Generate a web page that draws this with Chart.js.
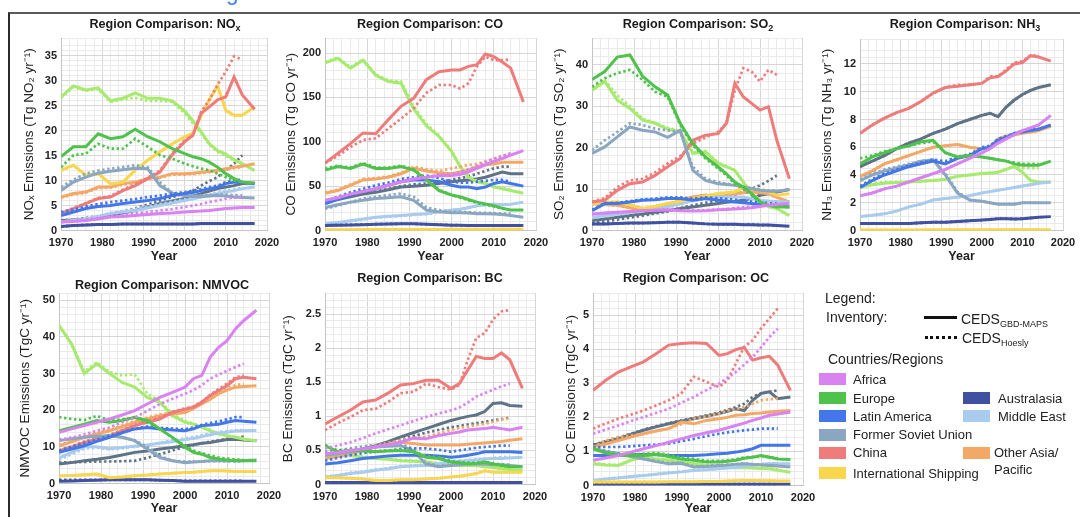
<!DOCTYPE html>
<html><head><meta charset="utf-8">
<script src="https://cdn.jsdelivr.net/npm/chart.js@4.4.0/dist/chart.umd.min.js"></script>
<style>
body{margin:0;background:#fff;}
#page{position:relative;width:1080px;height:517px;overflow:hidden;font-family:"Liberation Sans",Arial,Helvetica,sans-serif;color:#1a1a1a;background:#fff;}
.ptitle{position:absolute;font-weight:bold;font-size:12.6px;line-height:14px;white-space:nowrap;transform:translate(-50%,-50%);}
.ptitle sub{font-size:9px;vertical-align:-3px;line-height:0;}
canvas{position:absolute;}
.lg{position:absolute;white-space:nowrap;font-size:14px;line-height:16px;color:#222;}
.lr{position:absolute;white-space:nowrap;font-size:13px;line-height:15px;color:#222;}
.lg sub{font-size:9px;vertical-align:-3px;line-height:0;}
.sw{position:absolute;width:27px;height:12px;}
</style></head>
<body><div id="page">
<div style="position:absolute;left:8px;top:12px;width:1100px;height:600px;border-top:2px solid #5a5a5a;border-left:2px solid #2a2a2a;"></div>
<div style="position:absolute;left:224px;top:0;width:24px;height:5px;overflow:hidden;"><span style="position:absolute;left:2px;top:-20px;font-size:22px;line-height:25px;color:#3f82e4;">g</span></div>
</div>
<script>
// ---------- DATA ----------
const years = [1970,1973,1976,1979,1982,1985,1988,1991,1994,1997,2000,2002,2004,2006,2008,2010,2012,2014,2017];
const yearsHoesly = [1970,1973,1976,1979,1982,1985,1988,1991,1994,1997,2000,2002,2004,2006,2008,2010,2012,2014];
const regions = ['Africa','Europe','Latin America','Former Soviet Union','China','International Shipping','Australasia','Middle East','Other Asia/Pacific','North America','India'];
const regionColors = ['#d982f2','#4fc24c','#4376e8','#8aa6c1','#ef7b7b','#f8d64e','#3f51a0','#a9cbee','#f3a865','#a6ea6e','#5f7387'];
const xTicksMajor = [1970,1980,1990,2000,2010,2020];

// rows follow the order of `regions`
const NOX_GBD = [
 [1.7,1.8,2.0,2.3,2.7,2.8,3.0,3.2,3.4,3.5,3.7,3.8,3.9,4.0,4.2,4.4,4.5,4.6,4.6],
 [14.8,16.8,16.8,19.4,18.4,18.8,20.3,18.8,17.8,16.4,15.4,14.8,14.4,13.7,12.7,11.4,10.4,9.7,9.5],
 [3.0,3.7,4.4,4.8,5.0,5.4,5.7,6.0,6.4,7.0,7.4,7.6,8.0,8.4,8.7,9.4,9.7,9.7,9.4],
 [8.0,9.7,10.7,11.5,11.9,12.2,12.5,12.4,9.0,7.5,7.0,6.8,6.8,6.9,7.0,6.9,6.7,6.6,6.5],
 [3.4,4.4,5.4,6.4,6.7,8.0,9.0,10.4,11.7,15.2,17.8,19.1,23.5,24.8,26.2,26.8,30.8,27.2,24.3],
 [12.1,13.1,11.1,11.4,9.4,9.7,12.1,14.1,15.8,17.4,18.8,19.5,23.1,26.2,29.0,24.1,23.1,23.1,24.8],
 [0.8,1.0,1.1,1.2,1.2,1.3,1.3,1.3,1.3,1.3,1.3,1.3,1.4,1.4,1.4,1.4,1.4,1.4,1.4],
 [1.7,2.0,2.3,2.8,3.4,3.7,4.0,4.5,5.0,5.5,6.0,6.3,6.7,7.0,7.4,7.7,8.0,8.4,8.7],
 [6.7,7.4,7.7,8.7,8.7,9.4,9.7,10.4,10.7,11.4,11.4,11.5,11.7,11.9,12.1,12.4,12.7,12.9,13.4],
 [26.8,29.0,28.2,28.6,26.0,26.5,27.6,26.5,26.5,26.0,24.0,22.0,19.8,17.4,16.0,15.3,14.2,13.4,12.0],
 [2.0,2.1,2.3,2.6,3.0,3.5,4.0,4.7,5.4,5.9,6.4,6.9,7.4,7.9,8.4,8.7,9.0,9.4,9.5]
];
const NOX_HOESLY = [
 [1.7,1.9,2.2,2.5,2.8,3.1,3.4,3.7,4.0,4.3,4.7,5.0,5.3,5.7,6.0,6.4,6.6,6.7],
 [12.7,15.1,15.4,17.4,16.4,16.4,18.4,16.8,15.1,14.4,13.4,12.9,12.4,12.1,11.4,10.7,10.0,9.7],
 [3.7,4.2,4.8,5.3,5.7,6.0,6.3,6.7,7.0,7.4,7.7,8.0,8.3,8.7,9.0,9.7,10.0,10.2],
 [8.7,10.2,11.4,12.0,12.4,12.7,13.1,12.7,9.7,7.5,7.2,7.0,7.0,7.1,7.2,7.2,7.1,7.0],
 [3.5,4.5,5.5,6.5,6.9,8.2,9.3,10.6,12.0,15.5,18.1,19.1,23.8,26.2,29.2,31.9,34.9,34.3],
 [12.0,13.0,11.0,11.3,9.3,9.6,12.0,14.0,15.7,17.3,18.7,19.4,23.0,26.1,28.9,24.0,23.0,23.0],
 [0.8,1.0,1.1,1.2,1.2,1.3,1.3,1.3,1.3,1.3,1.3,1.3,1.4,1.4,1.4,1.4,1.4,1.4],
 [1.8,2.1,2.4,2.9,3.5,3.9,4.3,4.8,5.3,5.8,6.3,6.6,7.0,7.3,7.7,8.0,8.3,8.6],
 [6.6,7.2,7.6,8.5,8.6,9.2,9.6,10.2,10.6,11.2,11.2,11.3,11.5,11.7,11.9,12.2,12.5,12.7],
 [26.6,28.8,28.0,28.4,25.8,26.3,26.6,26.0,26.0,25.8,23.5,21.5,19.5,17.2,15.8,15.0,14.0,13.3],
 [2.0,2.2,2.5,2.9,3.4,3.9,4.4,5.2,6.0,6.7,7.4,8.0,9.0,9.9,10.7,12.1,13.4,15.1]
];
const CO_GBD = [
 [34,37,41,44,47,51,55,58,60,62,62,63,66,70,74,78,81,85,90],
 [68,72,70,75,70,70,72,68,57,45,40,38,35,32,30,28,25,23,23],
 [30,35,40,44,47,51,55,57,57,55,51,49,49,47,49,53,55,53,50],
 [26,29,32,34,36,37,38,34,23,21,20,20,19.6,19,19,18.5,18,17,15],
 [76,87,98,110,109,125,140,149,170,179,181,181,185,187,199,196,190,183,145],
 [0.8,0.9,0.9,1.0,1.0,1.0,1.1,1.1,1.2,1.2,1.3,1.3,1.3,1.4,1.4,1.4,1.5,1.5,1.5],
 [5.7,6.0,6.3,6.6,7.0,7.3,7.5,7.5,7.0,6.5,6.0,5.8,5.7,5.7,5.7,5.7,5.7,5.7,5.7],
 [7.5,9,11,13,15,16,17,18,19,21,23,24,26,28,29,30,29,29.5,32],
 [42,45,51,57,58,60,64,70,67,65,64,66,68,72,74,75,77,77,77],
 [189,194,183,192,175,168,166,137,118,106,89,72,60,55,53,49,47,45,42],
 [32,35,38,41,43,46,49,50,51,53,55,56,57,58,60,63,66,64,64]
];
const CO_HOESLY = [
 [34,37,41,44,47,51,55,58,60,63,64,66,69,73,77,81,84,87],
 [70,73,71,76,71,71,73,69,58,46,40,37,34,31,29,27,25,23],
 [33,38,43,47,51,54,58,60,62,59,55,54,54,55,56,57,57,55],
 [24.5,28,32,36,38,40,41.5,38,26,23,21,21,20.5,20,20,19.5,19,19],
 [76,84,94,102,104,115,126,138,155,164,164,160,166,185,196,192,192,193],
 [0.8,0.9,0.9,1.0,1.0,1.0,1.1,1.1,1.2,1.2,1.3,1.3,1.3,1.4,1.4,1.4,1.5,1.5],
 [5.8,6.1,6.4,6.7,7.1,7.4,7.6,7.6,7.1,6.6,6.1,5.9,5.8,5.8,5.8,5.8,5.8,5.8],
 [7,8.5,10.5,12.5,14.5,15.5,16.5,17.5,18.5,20.5,22.5,23.5,25.5,27.5,28.5,29.5,29,29.5],
 [43,46,52,58,59,61,65,72,69,67,70,72,74,75,78,81,84,87],
 [190,195,184,193,176,169,168,140,120,107,90,73,61,56,54,50,48,46],
 [33,36,39,42,44,47,50,52,53,55,57,59,61,64,67,70,72,72]
];
const SO2_GBD = [
 [4.0,4.2,4.4,4.6,4.8,4.9,5.0,4.8,4.7,4.8,5.0,5.1,5.2,5.3,5.5,5.8,6.1,6.3,6.5],
 [36.5,38.4,41.9,42.4,37.3,34.7,32.7,25.9,21.0,17.8,15.4,13.7,11.7,10.5,8.9,6.9,6.1,5.7,5.7],
 [4.8,6.5,6.5,6.9,7.3,7.4,7.7,7.7,7.3,7.7,7.3,7.1,6.9,6.7,6.5,6.3,6.1,6.0,5.7],
 [18.6,20.2,22.6,25.0,24.2,23.8,22.5,24.2,14.5,12.1,11.3,11.1,10.9,10.5,10.1,9.7,9.5,9.5,9.9],
 [6.9,7.3,9.7,11.3,11.7,13.3,15.4,17.4,21.8,23.0,23.4,25.9,35.6,32.3,30.7,29.1,29.9,21.8,12.5],
 [6.5,6.7,6.9,6.2,5.3,5.8,6.5,7.0,7.7,8.3,8.9,9.1,9.3,10.5,10.1,9.7,9.3,8.5,8.9],
 [1.6,1.6,1.7,1.8,1.8,1.9,2.0,2.0,1.8,1.6,1.5,1.5,1.5,1.4,1.4,1.3,1.3,1.2,1.0],
 [3.2,3.6,4.0,4.4,4.8,5.2,5.7,6.5,7.3,7.7,8.1,8.1,8.1,8.1,7.7,7.3,7.1,7.0,6.9],
 [6.5,6.3,6.1,5.5,4.8,5.4,6.1,7.3,8.1,8.5,8.1,8.5,8.9,9.1,9.3,9.1,8.9,8.0,6.9],
 [33.9,36.0,31.5,29.5,26.7,25.9,24.5,23.8,18.6,19.0,16.2,15.4,14.5,11.7,8.9,7.3,5.7,5.3,3.6],
 [2.4,2.8,3.2,3.6,4.0,4.4,4.8,5.3,5.7,6.1,6.5,6.8,7.0,7.3,7.8,8.5,8.9,9.3,9.9]
];
const SO2_HOESLY = [
 [4.0,4.2,4.4,4.6,4.8,4.9,5.0,4.9,4.8,4.9,5.1,5.2,5.4,5.6,5.8,6.0,6.2,6.4],
 [34.7,36.8,38.0,38.8,36.4,33.5,32.3,25.5,20.6,17.4,15.0,13.3,11.3,10.1,8.5,6.9,6.1,5.7],
 [5.0,6.6,6.7,7.1,7.5,7.7,8.0,8.0,7.7,8.0,7.8,7.6,7.4,7.2,7.0,6.8,6.6,6.5],
 [19.4,21.8,23.8,25.9,25.5,24.6,24.2,23.8,15.4,12.5,11.7,11.3,11.0,10.6,10.2,9.9,9.7,9.7],
 [7.0,7.8,10.5,12.1,12.5,14.0,16.2,18.0,21.0,22.5,23.8,25.9,33.9,39.2,38.4,36.0,38.8,37.6],
 [6.6,6.8,7.0,6.3,5.4,5.9,6.6,7.1,7.8,8.4,9.0,9.2,9.4,10.6,10.2,9.8,9.4,8.6],
 [1.6,1.6,1.7,1.8,1.8,1.9,2.0,2.0,1.8,1.6,1.5,1.5,1.5,1.4,1.4,1.3,1.3,1.2],
 [3.0,3.4,3.8,4.2,4.6,5.0,5.5,6.3,7.1,7.5,7.9,8.0,8.0,7.9,7.6,7.3,7.1,7.0],
 [6.4,6.2,6.0,5.4,4.9,5.5,6.2,7.4,8.2,8.6,8.3,8.7,9.1,9.3,9.5,9.4,9.2,8.4],
 [34.3,36.3,32.7,30.0,27.0,26.0,24.8,24.0,18.8,19.2,16.4,15.5,14.6,11.8,9.0,7.4,5.8,5.4],
 [1.8,2.2,2.6,3.1,3.6,4.1,4.6,5.4,6.1,6.7,7.3,7.9,8.6,9.3,10.1,10.9,12.0,13.3]
];
const NH3_GBD = [
 [2.5,2.7,3.0,3.2,3.5,3.8,4.1,4.4,4.8,5.2,5.6,5.9,6.3,6.6,6.9,7.2,7.4,7.6,8.3],
 [4.8,5.3,5.6,5.9,6.1,6.4,6.5,5.6,5.3,5.4,5.3,5.2,5.1,5.0,4.8,4.7,4.7,4.7,5.0],
 [3.1,3.6,4.0,4.3,4.6,4.8,5.0,4.8,5.2,5.4,5.9,6.0,6.5,6.7,7.0,7.1,7.2,7.3,7.6],
 [3.6,4.0,4.3,4.5,4.7,5.0,5.1,4.0,2.7,2.2,2.1,2.0,1.9,1.9,1.9,2.0,2.0,2.0,2.0],
 [7.0,7.6,8.1,8.5,8.8,9.3,9.9,10.3,10.4,10.5,10.6,11.0,11.1,11.5,12.0,12.1,12.6,12.5,12.2],
 [0.04,0.04,0.04,0.04,0.04,0.04,0.05,0.05,0.05,0.05,0.05,0.05,0.05,0.05,0.06,0.06,0.06,0.06,0.06],
 [0.5,0.5,0.5,0.5,0.5,0.55,0.6,0.6,0.65,0.7,0.75,0.8,0.85,0.85,0.82,0.85,0.9,0.95,1.0],
 [1.0,1.1,1.2,1.4,1.7,1.9,2.2,2.3,2.4,2.5,2.7,2.8,2.9,3.0,3.1,3.2,3.3,3.4,3.5],
 [3.9,4.3,4.8,5.1,5.4,5.7,6.0,6.1,6.2,6.0,5.9,6.0,6.6,6.8,6.9,7.0,7.1,7.2,7.5],
 [3.1,3.3,3.4,3.45,3.5,3.55,3.6,3.7,3.9,4.0,4.1,4.15,4.2,4.4,4.6,4.2,3.6,3.5,3.5],
 [4.6,5.0,5.4,5.9,6.3,6.6,7.0,7.3,7.7,8.0,8.3,8.45,8.2,8.9,9.4,9.8,10.1,10.3,10.5]
];
const NH3_HOESLY = [
 [2.5,2.7,3.0,3.2,3.5,3.8,4.1,4.4,4.8,5.2,5.6,5.9,6.3,6.6,6.9,7.2,7.4,7.6],
 [5.2,5.4,5.7,5.9,6.1,6.3,6.4,5.6,5.3,5.4,5.3,5.2,5.1,5.0,4.9,4.8,4.8,4.8],
 [3.2,3.7,4.1,4.4,4.7,4.9,5.1,5.0,5.3,5.5,6.0,6.1,6.6,6.8,7.0,7.2,7.3,7.4],
 [3.7,4.1,4.4,4.6,4.8,5.0,5.1,4.1,2.8,2.2,2.1,2.0,1.9,1.9,1.9,2.0,2.0,2.0],
 [7.0,7.6,8.1,8.5,8.8,9.3,9.9,10.3,10.5,10.5,10.6,11.1,11.1,11.6,12.1,12.2,12.6,12.6],
 [0.04,0.04,0.04,0.04,0.04,0.04,0.05,0.05,0.05,0.05,0.05,0.05,0.05,0.05,0.06,0.06,0.06,0.06],
 [0.5,0.5,0.5,0.5,0.5,0.55,0.6,0.6,0.65,0.7,0.75,0.8,0.85,0.85,0.82,0.85,0.9,0.95],
 [1.0,1.1,1.2,1.4,1.7,1.9,2.2,2.3,2.4,2.5,2.7,2.8,2.9,3.0,3.1,3.2,3.3,3.4],
 [3.9,4.3,4.8,5.1,5.4,5.7,6.0,6.1,6.2,6.0,5.9,6.0,6.6,6.8,6.9,7.0,7.1,7.2],
 [3.2,3.4,3.5,3.5,3.5,3.55,3.6,3.7,3.9,4.0,4.1,4.15,4.2,4.4,4.7,4.5,4.5,4.5],
 [4.6,5.0,5.4,5.9,6.3,6.6,7.0,7.3,7.7,8.0,8.3,8.45,8.2,8.9,9.4,9.8,10.1,10.3]
];
const NMVOC_GBD = [
 [14.0,14.9,15.8,16.7,17.6,18.7,19.9,21.7,23.5,24.9,26.3,28.6,29.5,34.5,37.2,39.0,42.2,44.5,47.3],
 [14.4,15.3,16.2,17.2,16.7,17.2,18.1,17.2,14.9,12.6,9.9,8.5,8.0,7.1,6.7,6.4,6.2,6.2,6.2],
 [8.5,9.4,10.3,11.5,12.6,13.8,14.9,15.3,14.9,14.6,14.4,14.9,15.8,16.0,16.2,16.7,17.2,17.0,16.7],
 [11.7,12.2,12.6,12.8,13.0,12.6,11.7,9.4,7.1,6.2,5.7,5.9,6.0,6.2,6.2,6.2,6.2,6.3,6.4],
 [8.9,10.0,11.2,12.1,13.0,14.4,15.8,16.7,17.6,19.4,20.3,20.8,22.2,24.0,25.4,26.7,28.6,29.0,28.6],
 [2.1,2.2,2.4,2.6,1.6,1.8,2.1,2.3,2.6,2.8,3.0,3.1,3.3,3.5,3.5,3.4,3.3,3.3,3.3],
 [0.6,0.7,0.8,0.9,1.0,1.0,1.0,1.0,0.9,0.8,0.6,0.6,0.6,0.6,0.6,0.6,0.6,0.6,0.6],
 [7.0,8.5,10.0,10.0,9.5,9.8,10.2,10.5,11.0,11.4,12.0,12.3,12.8,13.3,13.8,14.0,14.3,14.4,14.5],
 [10.3,11.4,12.6,13.5,14.4,15.5,16.7,17.6,18.5,19.0,19.4,20.5,21.7,23.0,24.5,25.5,26.3,26.5,26.7],
 [43.2,38.0,30.0,32.7,30.0,27.6,26.3,23.5,22.2,18.5,16.7,16.2,15.3,14.4,13.5,13.0,12.6,12.1,11.7],
 [5.3,5.7,6.2,6.6,7.1,7.8,8.5,8.9,9.4,9.8,10.3,10.6,11.0,11.2,11.6,12.0,12.1,11.9,11.7]
];
const NMVOC_HOESLY = [
 [11.7,12.5,13.4,14.4,15.3,16.7,18.0,19.8,21.7,23.1,24.5,25.5,26.8,28.6,29.7,30.8,31.8,32.7],
 [18.1,17.6,17.3,18.5,17.2,17.5,18.0,16.7,14.9,12.5,10.3,9.0,8.3,7.6,7.1,6.8,6.6,6.4],
 [9.0,10.0,11.0,12.0,13.0,14.0,15.0,15.5,15.2,15.0,14.8,15.3,16.0,16.5,17.0,17.5,18.1,18.1],
 [12.0,12.5,12.8,13.0,13.0,12.6,11.8,10.0,7.5,6.2,6.0,6.0,6.0,6.1,6.1,6.0,6.0,6.0],
 [9.0,10.2,11.5,12.4,13.3,14.6,16.0,17.0,18.0,19.6,20.5,21.0,22.3,24.2,25.8,27.3,29.0,29.5],
 [2.1,2.2,2.4,2.6,1.6,1.8,2.1,2.3,2.6,2.8,3.0,3.1,3.3,3.5,3.5,3.4,3.3,3.3],
 [1.0,1.0,1.0,1.0,1.0,1.0,1.0,1.0,0.9,0.8,0.7,0.7,0.7,0.7,0.7,0.7,0.7,0.7],
 [6.5,8.0,9.5,9.8,9.3,9.6,10.0,10.5,11.2,11.8,12.3,12.7,13.2,13.7,14.1,14.3,14.5,14.6],
 [10.5,11.6,12.8,13.8,14.7,15.8,17.0,18.0,18.8,19.4,19.9,21.0,22.3,23.7,25.0,26.0,26.8,27.2],
 [43.0,38.0,30.5,33.1,30.4,29.5,29.8,24.5,22.6,19.0,17.0,16.4,15.5,14.6,13.6,13.1,12.7,12.2],
 [5.7,5.8,5.9,6.0,6.0,6.1,6.2,7.0,8.0,9.0,10.0,10.5,11.0,11.4,11.8,12.2,12.5,12.8]
];
const BC_GBD = [
 [0.45,0.47,0.5,0.52,0.55,0.58,0.62,0.68,0.67,0.72,0.75,0.77,0.8,0.81,0.82,0.84,0.82,0.8,0.84],
 [0.57,0.48,0.5,0.49,0.48,0.49,0.5,0.48,0.4,0.38,0.33,0.32,0.3,0.31,0.33,0.3,0.28,0.26,0.26],
 [0.3,0.32,0.35,0.38,0.4,0.42,0.43,0.43,0.43,0.42,0.4,0.41,0.43,0.45,0.48,0.48,0.48,0.48,0.47],
 [0.43,0.45,0.48,0.52,0.55,0.56,0.57,0.5,0.3,0.26,0.28,0.29,0.3,0.3,0.3,0.29,0.29,0.28,0.26],
 [0.89,0.99,1.09,1.21,1.24,1.34,1.46,1.48,1.53,1.53,1.41,1.48,1.68,1.88,1.85,1.85,1.93,1.83,1.41],
 [0.1,0.1,0.09,0.08,0.06,0.06,0.07,0.07,0.08,0.09,0.11,0.12,0.14,0.16,0.2,0.18,0.18,0.18,0.18],
 [0.03,0.03,0.03,0.03,0.03,0.03,0.03,0.03,0.03,0.03,0.03,0.03,0.03,0.03,0.03,0.03,0.03,0.03,0.03],
 [0.11,0.13,0.16,0.18,0.21,0.23,0.26,0.27,0.28,0.3,0.33,0.34,0.35,0.36,0.37,0.38,0.38,0.39,0.4],
 [0.38,0.41,0.45,0.5,0.55,0.58,0.62,0.6,0.58,0.58,0.58,0.58,0.59,0.6,0.61,0.62,0.63,0.65,0.67],
 [0.43,0.43,0.43,0.4,0.38,0.37,0.35,0.34,0.33,0.3,0.28,0.28,0.28,0.28,0.26,0.25,0.23,0.22,0.21],
 [0.43,0.45,0.48,0.52,0.57,0.63,0.7,0.76,0.82,0.88,0.94,0.97,1.0,1.02,1.07,1.19,1.2,1.16,1.15]
];
const BC_HOESLY = [
 [0.53,0.57,0.62,0.68,0.75,0.81,0.87,0.93,0.99,1.04,1.09,1.13,1.2,1.29,1.34,1.39,1.44,1.48],
 [0.58,0.5,0.51,0.5,0.49,0.5,0.51,0.49,0.42,0.4,0.35,0.33,0.32,0.32,0.33,0.31,0.29,0.27],
 [0.35,0.39,0.43,0.46,0.48,0.5,0.52,0.53,0.53,0.51,0.48,0.5,0.52,0.54,0.55,0.56,0.57,0.57],
 [0.48,0.5,0.53,0.56,0.58,0.59,0.6,0.52,0.32,0.27,0.29,0.3,0.31,0.31,0.31,0.3,0.3,0.29],
 [0.8,0.9,0.99,1.09,1.11,1.21,1.34,1.36,1.48,1.43,1.39,1.46,1.83,2.15,2.22,2.42,2.54,2.56],
 [0.1,0.1,0.09,0.08,0.06,0.06,0.07,0.07,0.08,0.09,0.11,0.12,0.14,0.16,0.2,0.18,0.18,0.18],
 [0.03,0.03,0.03,0.03,0.03,0.03,0.03,0.03,0.03,0.03,0.03,0.03,0.03,0.03,0.03,0.03,0.03,0.03],
 [0.12,0.14,0.17,0.19,0.22,0.24,0.27,0.28,0.29,0.31,0.34,0.35,0.36,0.37,0.38,0.39,0.4,0.41],
 [0.4,0.44,0.48,0.52,0.57,0.61,0.65,0.68,0.7,0.75,0.8,0.83,0.85,0.87,0.89,0.92,0.95,0.97],
 [0.44,0.44,0.44,0.41,0.39,0.38,0.36,0.35,0.34,0.31,0.29,0.29,0.29,0.28,0.27,0.26,0.24,0.23],
 [0.42,0.44,0.47,0.5,0.55,0.6,0.66,0.71,0.76,0.8,0.84,0.86,0.88,0.9,0.92,0.94,0.96,0.98]
];
const OC_GBD = [
 [0.74,0.81,0.88,0.98,1.08,1.17,1.27,1.37,1.47,1.55,1.62,1.69,1.76,1.83,1.91,1.98,2.06,2.1,2.16],
 [1.08,0.95,0.88,0.88,0.88,0.92,0.85,0.78,0.74,0.69,0.69,0.71,0.74,0.8,0.83,0.88,0.83,0.78,0.76],
 [0.88,0.88,0.88,0.9,0.91,0.9,0.88,0.88,0.88,0.9,0.93,0.95,0.98,1.02,1.08,1.18,1.18,1.18,1.18],
 [1.08,1.0,0.93,0.85,0.78,0.7,0.64,0.65,0.54,0.56,0.59,0.6,0.62,0.64,0.62,0.6,0.59,0.57,0.54],
 [2.79,3.09,3.33,3.48,3.63,3.87,4.12,4.17,4.19,4.17,3.82,3.87,3.99,4.05,3.68,3.75,3.79,3.53,2.79],
 [0.1,0.1,0.1,0.1,0.1,0.1,0.11,0.11,0.11,0.12,0.12,0.13,0.14,0.15,0.15,0.14,0.14,0.13,0.13],
 [0.04,0.04,0.04,0.04,0.04,0.04,0.04,0.04,0.04,0.04,0.04,0.04,0.04,0.04,0.04,0.04,0.04,0.04,0.04],
 [0.15,0.19,0.22,0.26,0.29,0.33,0.37,0.4,0.44,0.46,0.49,0.51,0.53,0.57,0.59,0.62,0.64,0.64,0.64],
 [1.13,1.22,1.32,1.42,1.52,1.6,1.67,1.86,1.81,1.91,1.96,2.0,2.06,2.08,2.11,2.13,2.16,2.18,2.2],
 [0.64,0.6,0.59,0.74,0.83,0.78,0.74,0.69,0.64,0.59,0.54,0.53,0.52,0.52,0.51,0.5,0.49,0.45,0.39],
 [1.18,1.28,1.37,1.5,1.62,1.72,1.81,1.89,1.96,2.03,2.11,2.18,2.25,2.2,2.5,2.7,2.75,2.55,2.6]
];
const OC_HOESLY = [
 [1.52,1.64,1.76,1.89,2.01,2.13,2.25,2.43,2.6,2.8,2.99,3.16,3.33,3.55,3.77,4.05,4.36,4.6],
 [1.1,0.98,0.92,0.92,0.93,0.96,0.9,0.82,0.78,0.72,0.72,0.74,0.77,0.82,0.84,0.86,0.84,0.8],
 [1.13,1.13,1.13,1.15,1.18,1.2,1.23,1.3,1.37,1.45,1.52,1.56,1.59,1.62,1.64,1.67,1.67,1.67],
 [1.1,1.02,0.95,0.87,0.8,0.72,0.66,0.67,0.56,0.57,0.6,0.61,0.63,0.65,0.63,0.61,0.6,0.58],
 [1.67,1.82,1.96,2.08,2.2,2.35,2.5,2.7,3.19,3.04,2.89,3.09,3.58,4.07,4.26,4.61,4.9,5.2],
 [0.1,0.1,0.1,0.1,0.1,0.1,0.11,0.11,0.11,0.12,0.12,0.13,0.14,0.15,0.15,0.14,0.14,0.13],
 [0.04,0.04,0.04,0.04,0.04,0.04,0.04,0.04,0.04,0.04,0.04,0.04,0.04,0.04,0.04,0.04,0.04,0.04],
 [0.16,0.2,0.23,0.27,0.3,0.34,0.38,0.41,0.45,0.47,0.5,0.52,0.54,0.58,0.6,0.63,0.65,0.65],
 [1.13,1.32,1.42,1.47,1.52,1.6,1.67,1.8,1.96,2.03,2.11,2.2,2.25,2.3,2.4,2.5,2.53,2.55],
 [0.66,0.62,0.6,0.75,0.84,0.79,0.75,0.7,0.65,0.6,0.55,0.54,0.53,0.53,0.52,0.51,0.5,0.47],
 [1.2,1.3,1.4,1.52,1.64,1.74,1.83,1.91,1.98,2.06,2.14,2.22,2.3,2.4,2.6,2.7,2.75,2.79]
];

// ---------- LAYOUT / STYLE ----------
const FONT = '"Liberation Sans", Arial, Helvetica, sans-serif';
Chart.defaults.font.family = FONT;
Chart.defaults.color = '#222';

const panels = [
 {title:'Region Comparison: NO<sub>x</sub>', tx:165, ty:24, gbd:NOX_GBD, hoesly:NOX_HOESLY, rect:[61,38,267,230], ymax:38.6, major:5, minor:1, ytitle:'NOₓ Emissions (Tg NO₂ yr⁻¹)', yd:32, xd:26},
 {title:'Region Comparison: CO', tx:430, ty:24, gbd:CO_GBD, hoesly:CO_HOESLY, rect:[325,38,536,230], ymax:217, major:50, minor:10, ytitle:'CO Emissions (Tg CO yr⁻¹)', yd:34, xd:26},
 {title:'Region Comparison: SO<sub>2</sub>', tx:698, ty:24, gbd:SO2_GBD, hoesly:SO2_HOESLY, rect:[592,38,802,230], ymax:46.5, major:10, minor:2, ytitle:'SO₂ Emissions (Tg SO₂ yr⁻¹)', yd:33, xd:26},
 {title:'Region Comparison: NH<sub>3</sub>', tx:965, ty:24, gbd:NH3_GBD, hoesly:NH3_HOESLY, rect:[860,39,1063,230], ymax:13.8, major:2, minor:0.5, ytitle:'NH₃ Emissions (Tg NH₃ yr⁻¹)', yd:33, xd:26},
 {title:'Region Comparison: NMVOC', tx:162, ty:285, gbd:NMVOC_GBD, hoesly:NMVOC_HOESLY, rect:[59,293,269,483], ymax:52, major:10, minor:2, ytitle:'NMVOC Emissions (TgC yr⁻¹)', yd:34, xd:25},
 {title:'Region Comparison: BC', tx:430, ty:278, gbd:BC_GBD, hoesly:BC_HOESLY, rect:[325,293,535,484], ymax:2.81, major:0.5, minor:0.1, ytitle:'BC Emissions (TgC yr⁻¹)', yd:37, xd:24},
 {title:'Region Comparison: OC', tx:696, ty:278, gbd:OC_GBD, hoesly:OC_HOESLY, rect:[593,293,803,485], ymax:5.65, major:1, minor:0.2, ytitle:'OC Emissions (TgC yr⁻¹)', yd:22, xd:23}
];

const page = document.getElementById('page');

function isMult(v, step){ const r = v/step; return Math.abs(r - Math.round(r)) < 1e-6; }
function fmt(v){ return String(Math.round(v*1000)/1000); }

function series(yrs, vals){ return vals.map((v,i)=>({x:yrs[i], y:v})).filter(p=>p.x!==undefined); }

function makePanel(p){
  const [L,T,R,B] = p.rect;
  const padL=2, padT=8, padR=20, padB=2;
  const yW = p.yd + 8.1;
  const xH = p.xd + 7.5;
  const W = Math.round(padL + yW + (R-L) + padR);
  const H = Math.round(padT + (B-T) + xH + padB);
  const cv = document.createElement('canvas');
  cv.width = W; cv.height = H;
  cv.style.width = W+'px'; cv.style.height = H+'px';
  cv.style.left = (L - yW - padL)+'px'; cv.style.top = (T - padT)+'px';
  page.appendChild(cv);

  const t = document.createElement('div');
  t.className='ptitle'; t.innerHTML = p.title;
  t.style.left = p.tx+'px'; t.style.top = p.ty+'px';
  page.appendChild(t);

  const datasets = [];
  regions.forEach((r,i)=>{
    datasets.push({label: r+' (CEDS GBD-MAPS)', data: series(years, p.gbd[i]), borderColor: regionColors[i], backgroundColor: regionColors[i], borderWidth: 3, pointRadius: 0, tension: 0, fill:false});
    datasets.push({label: r+' (CEDS Hoesly)', data: series(yearsHoesly, p.hoesly[i]), borderColor: regionColors[i], backgroundColor: regionColors[i], borderWidth: 2.7, borderDash:[2.4,2.6], pointRadius: 0, tension: 0, fill:false});
  });

  new Chart(cv, {
    type: 'line',
    data: { datasets },
    options: {
      responsive: false, animation: false, devicePixelRatio: 1,
      layout: { autoPadding: false, padding: {left:padL, top:padT, right:padR, bottom:padB} },
      plugins: { legend:{display:false}, tooltip:{enabled:false}, title:{display:false} },
      scales: {
        x: {
          type:'linear', min:1970, max:2020,
          ticks:{ stepSize:2, autoSkip:false, maxRotation:0, padding:6, color:'#222',
                  font:{size:11, weight:'bold'},
                  callback:(v)=> xTicksMajor.includes(Math.round(v)) && isMult(v,10) ? String(Math.round(v)) : '' },
          grid:{ drawTicks:false, color:(c)=> (c.tick && isMult(c.tick.value,10)) ? '#d6d6d6' : '#eaeaea', lineWidth:1 },
          border:{ color:'#c4c4c4' },
          title:{ display:true, text:'Year', color:'#222', font:{size:12.5, weight:'bold'}, padding:0 },
          afterFit:(s)=>{ s.height = xH; s.paddingLeft=0; s.paddingRight=0; }
        },
        y: {
          type:'linear', min:0, max:p.ymax,
          ticks:{ stepSize:p.minor, autoSkip:false, padding:4, color:'#222',
                  font:{size:11, weight:'bold'},
                  callback:(v)=> isMult(v,p.major) ? fmt(v) : '' },
          grid:{ drawTicks:false, color:(c)=> (c.tick && isMult(c.tick.value,p.major)) ? '#d6d6d6' : '#eaeaea', lineWidth:1 },
          border:{ color:'#c4c4c4' },
          title:{ display:true, text:p.ytitle, color:'#222', font:{size:13.5, weight:'normal'}, padding:0 },
          afterFit:(s)=>{ s.width = yW; s.paddingTop=0; s.paddingBottom=0; }
        }
      }
    }
  });
}
panels.forEach(makePanel);

// ---------- LEGEND (text) ----------
function addEl(cls, html, left, top, extra){
  const d = document.createElement('div'); d.className = cls; d.innerHTML = html;
  d.style.left = left+'px'; d.style.top = top+'px';
  if (extra) Object.assign(d.style, extra);
  page.appendChild(d); return d;
}
addEl('lg','Legend:',825,290);
addEl('lg','Inventory:',826,309);
addEl('lg','',924,316,{width:33+'px',height:'0px',borderTop:'3px solid #111'});
addEl('lg','CEDS<sub>GBD-MAPS</sub>',961,311);
addEl('lg','',925,336,{width:32+'px',height:'0px',borderTop:'3px dotted #111'});
addEl('lg','CEDS<sub>Hoesly</sub>',962,330);
addEl('lg','Countries/Regions',828,351);

const legendLeft = [['Africa',379,0],['Europe',398,1],['Latin America',416,2],['Former Soviet Union',434.5,3],['China',452.5,4],['International Shipping',473,5]];
const legendRight = [['Australasia',398,6],['Middle East',416,7]];
legendLeft.forEach(([name,cy,ci])=>{
  addEl('sw','',819,cy-6,{background:regionColors[ci]});
  addEl('lr',name,853,cy-7.5);
});
legendRight.forEach(([name,cy,ci])=>{
  addEl('sw','',963,cy-6,{background:regionColors[ci]});
  addEl('lr',name,998,cy-7.5);
});
addEl('sw','',963,452.5-6,{background:regionColors[8]});
addEl('lr','Other Asia/',994,452.5-7.5);
addEl('lr','Pacific',994,469-7.5);
</script>
</body></html>
